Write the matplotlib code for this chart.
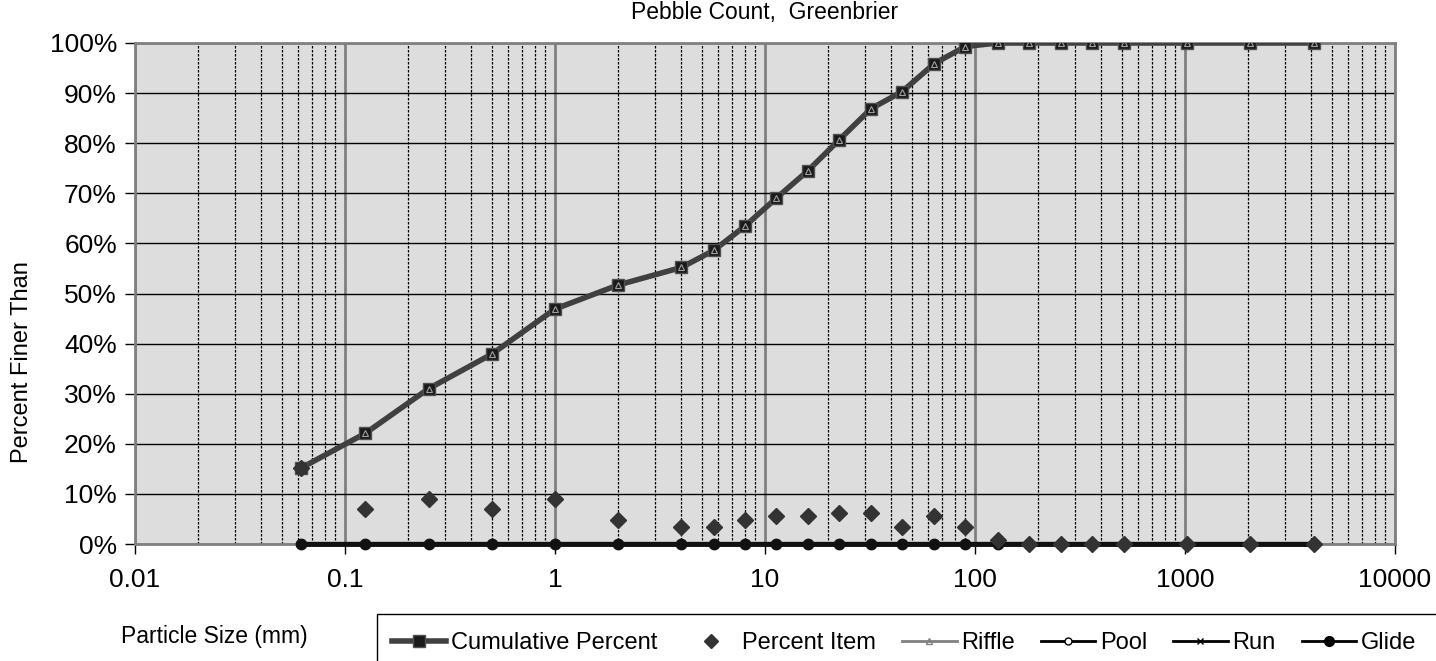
import numpy as np
import matplotlib.pyplot as plt
from matplotlib.lines import Line2D
from matplotlib.patches import Rectangle
from matplotlib.ticker import FixedLocator, FuncFormatter, LogLocator

plt.rcParams['font.family'] = ['Liberation Sans', 'DejaVu Sans']

# Tamaños de partícula (mm)
sizes = [0.062, 0.125, 0.25, 0.5, 1, 2, 4, 5.7, 8, 11.3, 16, 22.6, 32, 45, 64, 90,
         128, 180, 256, 362, 512, 1024, 2048, 4096]

# Porcentaje acumulado (más fino que)
cum_pct = [15.2, 22.1, 31.0, 37.9, 46.9, 51.7, 55.2, 58.6, 63.4, 69.0, 74.5, 80.7,
           86.9, 90.3, 95.9, 99.3, 100, 100, 100, 100, 100, 100, 100, 100]

# Porcentaje por clase
item_pct = [15.2, 6.9, 9.0, 6.9, 9.0, 4.8, 3.4, 3.4, 4.8, 5.5, 5.5, 6.2,
            6.2, 3.4, 5.5, 3.4, 0.7, 0, 0, 0, 0, 0, 0, 0]

riffle_pct = cum_pct
pool_pct = [0] * len(sizes)
run_pct = [0] * len(sizes)
glide_pct = [0] * len(sizes)

y_ticks = [0, 10, 20, 30, 40, 50, 60, 70, 80, 90, 100]
x_ticks = [0.01, 0.1, 1, 10, 100, 1000, 10000]

fig = plt.figure(figsize=(14.36, 6.61), dpi=100)
ax = fig.add_axes([135 / 1436, 1 - 544 / 661, 1260 / 1436, 501 / 661])
ax.set_facecolor('#dddddd')

ax.set_xscale('log')
ax.set_xlim(0.01, 10000)
ax.set_ylim(0, 100)

# Rejilla
ax.xaxis.set_major_locator(FixedLocator(x_ticks))
ax.xaxis.set_minor_locator(LogLocator(base=10, subs=np.arange(2, 10)))
ax.xaxis.set_major_formatter(FuncFormatter(lambda v, p: f'{v:g}'))
ax.xaxis.set_minor_formatter(FuncFormatter(lambda v, p: ''))
ax.set_yticks(y_ticks)
ax.yaxis.set_major_formatter(FuncFormatter(lambda v, p: f'{v:.0f}%'))
ax.grid(True, which='major', axis='y', color='black', lw=1.0)
ax.grid(True, which='major', axis='x', color='#808080', lw=2.0)
ax.grid(True, which='minor', axis='x', color='black', lw=0.9, linestyle=(0, (2, 1.2)))
ax.set_axisbelow(True)
ax.tick_params(axis='both', which='major', direction='out', length=7, width=1,
               color='black', labelsize=19, pad=6)
ax.tick_params(axis='x', which='minor', length=0)
ax.tick_params(axis='x', which='major', pad=10)
for s in ax.spines.values():
    s.set_color('#808080')
    s.set_linewidth(2)

# Series
ax.plot(sizes, riffle_pct, color='#808080', lw=1, zorder=2)
ax.plot(sizes, cum_pct, color='#404040', lw=4, marker='s', markersize=8,
        markerfacecolor='#1a1a1a', markeredgecolor='#505050', zorder=3)
ax.plot(sizes, riffle_pct, linestyle='none', marker='^', markersize=4,
        markerfacecolor='none', markeredgecolor='#a0a0a0', markeredgewidth=0.8, zorder=4)
ax.plot(sizes, pool_pct, color='black', lw=3, marker='o', markersize=4,
        markerfacecolor='white', zorder=4, clip_on=False)
ax.plot(sizes, run_pct, color='black', lw=3, marker='x', markersize=5, zorder=4, clip_on=False)
ax.plot(sizes, glide_pct, color='#111111', lw=3.5, marker='o', markersize=7.5, zorder=5, clip_on=False)
ax.plot(sizes, item_pct, linestyle='none', marker='D', markersize=8.5,
        color='#333333', zorder=6, clip_on=False)

fig.text(765 / 1436, 1 - 12 / 661, 'Pebble Count,  Greenbrier', ha='center', va='center', fontsize=16.5)
fig.text(22 / 1436, 1 - 362 / 661, 'Percent Finer Than', rotation=90, ha='center', va='center', fontsize=17)
fig.text(214 / 1436, 1 - 636 / 661, 'Particle Size (mm)', ha='center', va='center', fontsize=16.5)

# Leyenda
fig.patches.append(Rectangle((377 / 1436, -0.05), 1.0, 0.05 + (661 - 614) / 661,
                             transform=fig.transFigure, facecolor='white',
                             edgecolor='black', lw=1))
handles = [
    Line2D([], [], color='#404040', lw=4, marker='s', markersize=8,
           markerfacecolor='#1a1a1a', markeredgecolor='#505050'),
    Line2D([], [], linestyle='none', marker='D', markersize=7, color='#333333'),
    Line2D([], [], color='#808080', lw=2, marker='^', markersize=5,
           markerfacecolor='none', markeredgecolor='#808080'),
    Line2D([], [], color='black', lw=2, marker='o', markersize=5, markerfacecolor='white'),
    Line2D([], [], color='black', lw=2, marker='x', markersize=5),
    Line2D([], [], color='black', lw=2, marker='o', markersize=7),
]
labels = ['Cumulative Percent', 'Percent Item', 'Riffle', 'Pool', 'Run', 'Glide']
fig.legend(handles, labels, loc='center left', bbox_to_anchor=(392 / 1436, 1 - 643 / 661),
           ncol=6, frameon=False, fontsize=17, handlelength=2.3, handletextpad=0.2,
           columnspacing=1.1, borderpad=0, borderaxespad=0)

fig.savefig('out.png', dpi=100)
